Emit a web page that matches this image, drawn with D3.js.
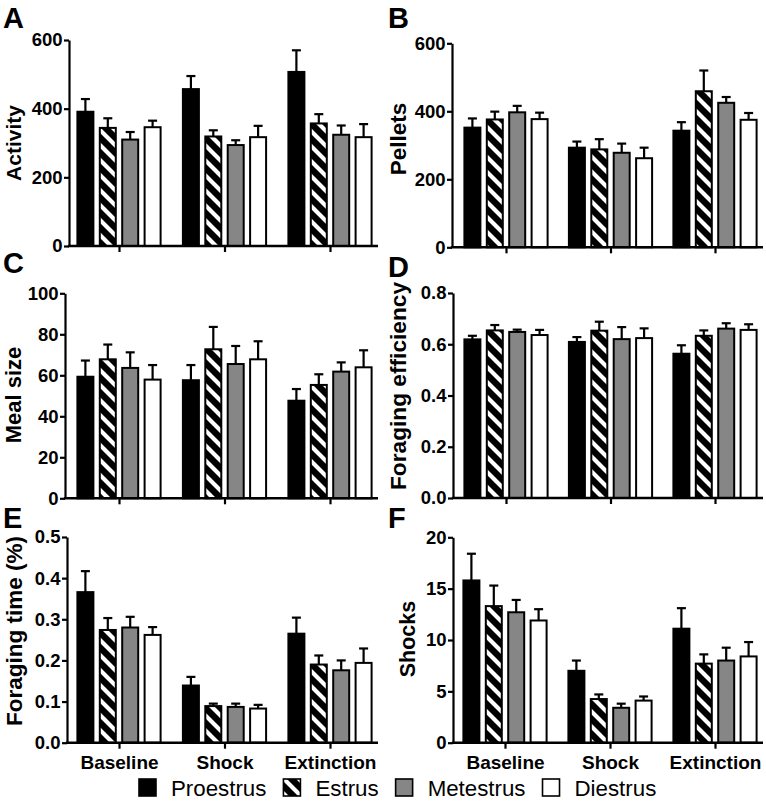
<!DOCTYPE html>
<html>
<head>
<meta charset="utf-8">
<script src="https://cdn.jsdelivr.net/npm/d3@7/dist/d3.min.js"></script>
<style>
  html, body { margin: 0; padding: 0; background: #fff; }
  svg { display: block; }
  text { font-family: "Liberation Sans", Arial, Helvetica, sans-serif; }
</style>
</head>
<body>
<svg id="chart" width="766" height="801"></svg>
<script>
// ---------------- DATA ----------------
const groups = ["Baseline", "Shock", "Extinction"];
const phases = ["Proestrus", "Estrus", "Metestrus", "Diestrus"];

// rows = groups, columns = phases
const activityMean = [[391, 344, 310, 346], [457, 319, 294, 317], [507, 357, 324, 317]];
const activitySem  = [[37, 28, 22, 19], [38, 18, 14, 33], [63, 27, 27, 38]];
const activityTicks = [0, 200, 400, 600];

const pelletsMean = [[352, 376, 397, 377], [293, 288, 278, 262], [343, 459, 425, 375]];
const pelletsSem  = [[27, 23, 19, 19], [18, 30, 27, 31], [25, 61, 17, 20]];
const pelletsTicks = [0, 200, 400, 600];

const mealMean = [[59.3, 67.8, 63.6, 57.9], [57.6, 72.7, 65.5, 67.8], [47.6, 55.3, 61.8, 63.9]];
const mealSem  = [[7.9, 7.2, 7.6, 7.1], [7.4, 10.9, 8.8, 8.8], [5.7, 5.2, 4.5, 8.3]];
const mealTicks = [0, 20, 40, 60, 80, 100];

const effMean = [[0.619, 0.654, 0.648, 0.636], [0.609, 0.653, 0.620, 0.624], [0.563, 0.633, 0.661, 0.656]];
const effSem  = [[0.014, 0.021, 0.009, 0.020], [0.019, 0.035, 0.047, 0.038], [0.033, 0.021, 0.021, 0.022]];
const effTicks = [0, 0.2, 0.4, 0.6, 0.8];

const timeMean = [[0.366, 0.274, 0.280, 0.262], [0.139, 0.089, 0.087, 0.083], [0.265, 0.190, 0.176, 0.194]];
const timeSem  = [[0.051, 0.029, 0.026, 0.019], [0.021, 0.006, 0.008, 0.009], [0.039, 0.022, 0.024, 0.035]];
const timeTicks = [0, 0.1, 0.2, 0.3, 0.4, 0.5];

const shocksMean = [[15.8, 13.3, 12.7, 11.9], [7.0, 4.25, 3.4, 4.1], [11.1, 7.7, 8.0, 8.4]];
const shocksSem  = [[2.6, 2.0, 1.2, 1.1], [1.0, 0.45, 0.4, 0.4], [2.0, 0.9, 1.25, 1.4]];
const shocksTicks = [0, 5, 10, 15, 20];

// ---------------- STYLE / LAYOUT ----------------
const fills = { Proestrus: "#000", Estrus: "url(#hatch)", Metestrus: "#868686", Diestrus: "#fff" };

const panels = [
  { letter: "A", title: "Activity", mean: activityMean, sem: activitySem, ticks: activityTicks, fmt: d3.format("d"),
    ax: 69, right: 378, top: 40, bottom: 246, c0: 119, c1: 330, lx: 3, ly: 28, tx: 13, ty: 143, ts: 21, labels: false },
  { letter: "B", title: "Pellets", mean: pelletsMean, sem: pelletsSem, ticks: pelletsTicks, fmt: d3.format("d"),
    ax: 452, right: 763, top: 43.3, bottom: 247.3, c0: 506, c1: 715, lx: 388, ly: 28, tx: 397.5, ty: 139, ts: 22.5, labels: false },
  { letter: "C", title: "Meal size", mean: mealMean, sem: mealSem, ticks: mealTicks, fmt: d3.format("d"),
    ax: 65, right: 378, top: 293.3, bottom: 498.3, c0: 119, c1: 330, lx: 3, ly: 273, tx: 13, ty: 395, ts: 22, labels: false },
  { letter: "D", title: "Foraging efficiency", mean: effMean, sem: effSem, ticks: effTicks, fmt: d3.format(".1f"),
    ax: 453, right: 763, top: 293, bottom: 498, c0: 506, c1: 715, lx: 388, ly: 277, tx: 398, ty: 386, ts: 22.7, labels: false },
  { letter: "E", title: "Foraging time (%)", mean: timeMean, sem: timeSem, ticks: timeTicks, fmt: d3.format(".1f"),
    ax: 67, right: 378, top: 537, bottom: 742.7, c0: 119, c1: 330, lx: 3, ly: 528, tx: 14, ty: 631, ts: 22.5, labels: true },
  { letter: "F", title: "Shocks", mean: shocksMean, sem: shocksSem, ticks: shocksTicks, fmt: d3.format("d"),
    ax: 453, right: 763, top: 537.3, bottom: 742.7, c0: 505, c1: 715, lx: 388, ly: 528, tx: 407, ty: 639, ts: 21.5, labels: true }
];

// ---------------- DRAW ----------------
const svg = d3.select("#chart");

const defs = svg.append("defs");
const pat = defs.append("pattern")
  .attr("id", "hatch").attr("patternUnits", "userSpaceOnUse")
  .attr("width", 15).attr("height", 15);
pat.append("rect").attr("width", 15).attr("height", 15).attr("fill", "#000");
pat.append("path")
  .attr("d", "M-4,-4 L19,19 M-4,11 L4,19 M11,-4 L19,4")
  .attr("stroke", "#fff").attr("stroke-width", 4.2);

const x1 = d3.scaleBand().domain(phases).range([-41.6, 41.6]).paddingInner(0.286);

panels.forEach(p => {
  const g = svg.append("g");
  const y = d3.scaleLinear().domain([0, d3.max(p.ticks)]).range([p.bottom, p.top]);
  const x0 = d3.scalePoint().domain(groups).range([p.c0, p.c1]);

  // bars
  groups.forEach((grp, gi) => {
    phases.forEach((ph, pi) => {
      const v = p.mean[gi][pi];
      const e = p.sem[gi][pi];
      const bx = x0(grp) + x1(ph);
      const cx = bx + x1.bandwidth() / 2;
      // error bar (upward)
      g.append("line").attr("x1", cx).attr("x2", cx).attr("y1", y(v)).attr("y2", y(v + e))
        .attr("stroke", "#000").attr("stroke-width", 2.2);
      g.append("line").attr("x1", cx - 4.5).attr("x2", cx + 4.5).attr("y1", y(v + e)).attr("y2", y(v + e))
        .attr("stroke", "#000").attr("stroke-width", 2.2);
      g.append("rect")
        .attr("x", bx).attr("y", y(v)).attr("width", x1.bandwidth()).attr("height", y(0) - y(v))
        .attr("fill", fills[ph]).attr("stroke", "#000").attr("stroke-width", 2);
    });
  });

  // y axis
  const ya = g.append("g").attr("transform", `translate(${p.ax},0)`)
    .call(d3.axisLeft(y).tickValues(p.ticks).tickFormat(p.fmt).tickSize(5).tickSizeOuter(0).tickPadding(1.5));
  ya.select(".domain").attr("stroke-width", 2.2);
  ya.selectAll(".tick line").attr("stroke-width", 2.2);
  ya.selectAll(".tick text").attr("font-size", 18.5).attr("font-weight", "bold").attr("fill", "#000")
    .attr("font-family", '"Liberation Sans", Arial, sans-serif');

  // x axis
  const xa = g.append("g").attr("transform", `translate(0,${p.bottom})`)
    .call(d3.axisBottom(x0).tickSize(6).tickSizeOuter(0).tickPadding(6.5));
  xa.select(".domain").remove();
  xa.selectAll(".tick line").attr("stroke-width", 2.2);
  xa.selectAll(".tick text").attr("font-size", 19).attr("font-weight", "bold").attr("fill", "#000")
    .attr("font-family", '"Liberation Sans", Arial, sans-serif')
    .style("display", p.labels ? null : "none");
  g.append("line").attr("x1", p.ax - 1.1).attr("x2", p.right).attr("y1", p.bottom).attr("y2", p.bottom)
    .attr("stroke", "#000").attr("stroke-width", 2.4);

  // y title
  g.append("text")
    .attr("transform", `translate(${p.tx},${p.ty}) rotate(-90)`)
    .attr("text-anchor", "middle").attr("dy", "0.36em")
    .attr("font-size", p.ts).attr("font-weight", "bold").text(p.title);

  // panel letter
  g.append("text").attr("x", p.lx).attr("y", p.ly)
    .attr("font-size", 29).attr("font-weight", "bold").text(p.letter);
});

// ---------------- LEGEND ----------------
const leg = svg.append("g");
let cx = 139;
phases.forEach(ph => {
  leg.append("rect").attr("x", cx).attr("y", 779).attr("width", 17).attr("height", 17)
    .attr("fill", fills[ph]).attr("stroke", "#000").attr("stroke-width", 1.6);
  const t = leg.append("text").attr("x", cx + 32).attr("y", 795.5)
    .attr("font-size", 22.3).attr("fill", "#000").text(ph);
  cx = cx + 32 + t.node().getComputedTextLength() + 17;
});
</script>
</body>
</html>
